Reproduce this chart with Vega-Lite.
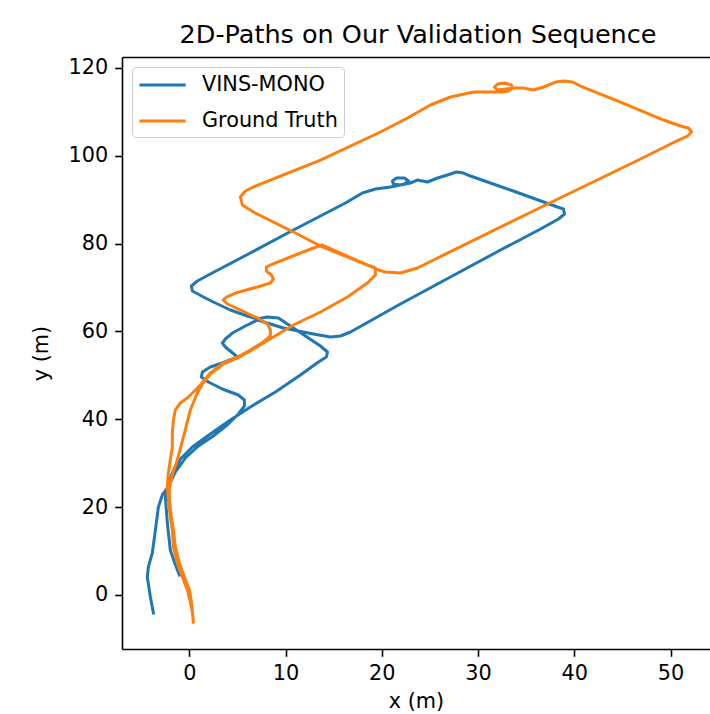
{
  "$schema": "https://vega.github.io/schema/vega-lite/v6.json",
  "autosize": "none",
  "padding": {"left": 122, "top": 57, "right": 0, "bottom": 65},
  "width": 588,
  "height": 592,
  "background": "white",
  "title": {"text": "2D-Paths on Our Validation Sequence", "fontSize": 25.5, "font": "DejaVu Sans", "fontWeight": "normal", "color": "#000", "anchor": "middle", "frame": "group", "offset": 12, "baseline": "bottom", "dy": 29, "dx": 2},
  "datasets": {
    "vins": [
      {"s":"VINS-MONO","i":1,"x":-3.74,"y":-4.10},{"s":"VINS-MONO","i":2,"x":-4.05,"y":-0.46},{"s":"VINS-MONO","i":3,"x":-4.37,"y":4.10},{"s":"VINS-MONO","i":4,"x":-4.26,"y":6.38},{"s":"VINS-MONO","i":5,"x":-3.85,"y":9.56},{"s":"VINS-MONO","i":6,"x":-3.53,"y":14.80},{"s":"VINS-MONO","i":7,"x":-3.22,"y":20.04},{"s":"VINS-MONO","i":8,"x":-2.81,"y":22.77},{"s":"VINS-MONO","i":9,"x":-2.29,"y":24.36},{"s":"VINS-MONO","i":10,"x":-1.46,"y":28.01},
      {"s":"VINS-MONO","i":11,"x":-0.42,"y":31.19},{"s":"VINS-MONO","i":12,"x":0.94,"y":33.93},{"s":"VINS-MONO","i":13,"x":2.49,"y":36.20},{"s":"VINS-MONO","i":14,"x":4.05,"y":38.93},{"s":"VINS-MONO","i":15,"x":5.09,"y":41.21},{"s":"VINS-MONO","i":16,"x":5.72,"y":43.03},{"s":"VINS-MONO","i":17,"x":5.72,"y":44.40},{"s":"VINS-MONO","i":18,"x":5.09,"y":45.54},{"s":"VINS-MONO","i":19,"x":3.43,"y":46.90},{"s":"VINS-MONO","i":20,"x":1.98,"y":48.50},
      {"s":"VINS-MONO","i":21,"x":1.25,"y":49.64},{"s":"VINS-MONO","i":22,"x":1.35,"y":50.77},{"s":"VINS-MONO","i":23,"x":2.18,"y":51.91},{"s":"VINS-MONO","i":24,"x":3.43,"y":52.82},{"s":"VINS-MONO","i":25,"x":4.99,"y":54.19},{"s":"VINS-MONO","i":26,"x":4.37,"y":55.33},{"s":"VINS-MONO","i":27,"x":3.74,"y":56.47},{"s":"VINS-MONO","i":28,"x":3.43,"y":57.38},{"s":"VINS-MONO","i":29,"x":3.74,"y":58.29},{"s":"VINS-MONO","i":30,"x":4.47,"y":59.65},
      {"s":"VINS-MONO","i":31,"x":5.82,"y":61.25},{"s":"VINS-MONO","i":32,"x":7.07,"y":62.61},{"s":"VINS-MONO","i":33,"x":8.42,"y":61.70},{"s":"VINS-MONO","i":34,"x":9.77,"y":60.79},{"s":"VINS-MONO","i":35,"x":11.33,"y":60.11},{"s":"VINS-MONO","i":36,"x":12.89,"y":59.43},{"s":"VINS-MONO","i":37,"x":14.66,"y":58.74},{"s":"VINS-MONO","i":38,"x":15.70,"y":58.97},{"s":"VINS-MONO","i":39,"x":16.74,"y":59.88},{"s":"VINS-MONO","i":40,"x":21.93,"y":66.26},
      {"s":"VINS-MONO","i":41,"x":27.13,"y":72.40},{"s":"VINS-MONO","i":42,"x":32.33,"y":78.55},{"s":"VINS-MONO","i":43,"x":36.49,"y":83.33},{"s":"VINS-MONO","i":44,"x":38.36,"y":85.61},{"s":"VINS-MONO","i":45,"x":38.98,"y":86.75},{"s":"VINS-MONO","i":46,"x":38.88,"y":87.89},{"s":"VINS-MONO","i":47,"x":38.25,"y":88.34},{"s":"VINS-MONO","i":48,"x":33.37,"y":92.21},{"s":"VINS-MONO","i":49,"x":29.21,"y":95.40},{"s":"VINS-MONO","i":50,"x":28.48,"y":96.08},
      {"s":"VINS-MONO","i":51,"x":27.75,"y":96.31},{"s":"VINS-MONO","i":52,"x":26.82,"y":95.63},{"s":"VINS-MONO","i":53,"x":25.78,"y":94.95},{"s":"VINS-MONO","i":54,"x":24.74,"y":94.04},{"s":"VINS-MONO","i":55,"x":23.70,"y":94.49},{"s":"VINS-MONO","i":56,"x":22.97,"y":93.81},{"s":"VINS-MONO","i":57,"x":21.93,"y":93.35},{"s":"VINS-MONO","i":58,"x":21.21,"y":93.58},{"s":"VINS-MONO","i":59,"x":21.10,"y":94.26},{"s":"VINS-MONO","i":60,"x":21.52,"y":94.95},
      {"s":"VINS-MONO","i":61,"x":22.35,"y":94.95},{"s":"VINS-MONO","i":62,"x":22.77,"y":94.26},{"s":"VINS-MONO","i":63,"x":22.35,"y":93.58},{"s":"VINS-MONO","i":64,"x":21.41,"y":93.12},{"s":"VINS-MONO","i":65,"x":20.89,"y":92.90},{"s":"VINS-MONO","i":66,"x":19.33,"y":92.44},{"s":"VINS-MONO","i":67,"x":17.98,"y":91.53},{"s":"VINS-MONO","i":68,"x":16.22,"y":89.25},{"s":"VINS-MONO","i":69,"x":13.62,"y":86.29},{"s":"VINS-MONO","i":70,"x":10.81,"y":83.11},
      {"s":"VINS-MONO","i":71,"x":6.34,"y":77.87},{"s":"VINS-MONO","i":72,"x":2.18,"y":73.09},{"s":"VINS-MONO","i":73,"x":0.83,"y":71.49},{"s":"VINS-MONO","i":74,"x":0.21,"y":70.36},{"s":"VINS-MONO","i":75,"x":0.31,"y":69.22},{"s":"VINS-MONO","i":76,"x":1.46,"y":67.85},{"s":"VINS-MONO","i":77,"x":2.49,"y":66.71},{"s":"VINS-MONO","i":78,"x":4.26,"y":64.89},{"s":"VINS-MONO","i":79,"x":6.03,"y":63.52},{"s":"VINS-MONO","i":80,"x":7.07,"y":62.84},
      {"s":"VINS-MONO","i":81,"x":8.11,"y":63.30},{"s":"VINS-MONO","i":82,"x":9.25,"y":63.07},{"s":"VINS-MONO","i":83,"x":10.19,"y":61.70},{"s":"VINS-MONO","i":84,"x":12.06,"y":58.97},{"s":"VINS-MONO","i":85,"x":13.62,"y":56.69},{"s":"VINS-MONO","i":86,"x":14.35,"y":55.33},{"s":"VINS-MONO","i":87,"x":14.24,"y":54.19},{"s":"VINS-MONO","i":88,"x":13.41,"y":53.05},{"s":"VINS-MONO","i":89,"x":11.54,"y":50.09},{"s":"VINS-MONO","i":90,"x":8.94,"y":46.22},
      {"s":"VINS-MONO","i":91,"x":6.34,"y":42.81},{"s":"VINS-MONO","i":92,"x":4.26,"y":39.85},{"s":"VINS-MONO","i":93,"x":2.18,"y":36.66},{"s":"VINS-MONO","i":94,"x":0.31,"y":33.70},{"s":"VINS-MONO","i":95,"x":-0.94,"y":30.97},{"s":"VINS-MONO","i":96,"x":-1.77,"y":27.78},{"s":"VINS-MONO","i":97,"x":-2.29,"y":24.59},{"s":"VINS-MONO","i":98,"x":-2.49,"y":22.31},{"s":"VINS-MONO","i":99,"x":-2.39,"y":19.35},{"s":"VINS-MONO","i":100,"x":-2.29,"y":16.39},
      {"s":"VINS-MONO","i":101,"x":-1.98,"y":10.25},{"s":"VINS-MONO","i":102,"x":-1.56,"y":7.51},{"s":"VINS-MONO","i":103,"x":-1.04,"y":4.55}
    ],
    "gt": [
      {"s":"Ground Truth","i":1,"x":0.42,"y":-6.15},{"s":"Ground Truth","i":2,"x":0.31,"y":-3.87},{"s":"Ground Truth","i":3,"x":0.10,"y":-1.59},{"s":"Ground Truth","i":4,"x":-0.21,"y":1.14},{"s":"Ground Truth","i":5,"x":-0.73,"y":4.10},{"s":"Ground Truth","i":6,"x":-1.25,"y":7.29},{"s":"Ground Truth","i":7,"x":-1.66,"y":10.93},{"s":"Ground Truth","i":8,"x":-1.77,"y":14.80},{"s":"Ground Truth","i":9,"x":-1.98,"y":17.76},{"s":"Ground Truth","i":10,"x":-2.18,"y":21.63},
      {"s":"Ground Truth","i":11,"x":-2.29,"y":24.59},{"s":"Ground Truth","i":12,"x":-2.18,"y":27.78},{"s":"Ground Truth","i":13,"x":-1.98,"y":30.74},{"s":"Ground Truth","i":14,"x":-1.77,"y":33.70},{"s":"Ground Truth","i":15,"x":-1.77,"y":36.89},{"s":"Ground Truth","i":16,"x":-1.66,"y":39.85},{"s":"Ground Truth","i":17,"x":-1.46,"y":42.12},{"s":"Ground Truth","i":18,"x":-0.94,"y":43.72},{"s":"Ground Truth","i":19,"x":-0.21,"y":44.85},{"s":"Ground Truth","i":20,"x":0.42,"y":46.22},
      {"s":"Ground Truth","i":21,"x":1.14,"y":47.81},{"s":"Ground Truth","i":22,"x":2.18,"y":50.55},{"s":"Ground Truth","i":23,"x":3.53,"y":52.82},{"s":"Ground Truth","i":24,"x":4.99,"y":54.19},{"s":"Ground Truth","i":25,"x":6.34,"y":55.78},{"s":"Ground Truth","i":26,"x":7.69,"y":57.61},{"s":"Ground Truth","i":27,"x":8.42,"y":58.97},{"s":"Ground Truth","i":28,"x":8.42,"y":60.34},{"s":"Ground Truth","i":29,"x":8.11,"y":61.70},{"s":"Ground Truth","i":30,"x":7.07,"y":63.07},
      {"s":"Ground Truth","i":31,"x":5.30,"y":64.89},{"s":"Ground Truth","i":32,"x":3.95,"y":66.26},{"s":"Ground Truth","i":33,"x":3.53,"y":67.17},{"s":"Ground Truth","i":34,"x":3.85,"y":67.85},{"s":"Ground Truth","i":35,"x":4.78,"y":68.76},{"s":"Ground Truth","i":36,"x":7.07,"y":70.13},{"s":"Ground Truth","i":37,"x":8.42,"y":71.04},{"s":"Ground Truth","i":38,"x":8.73,"y":71.95},{"s":"Ground Truth","i":39,"x":8.52,"y":72.86},{"s":"Ground Truth","i":40,"x":8.00,"y":73.77},
      {"s":"Ground Truth","i":41,"x":8.00,"y":74.68},{"s":"Ground Truth","i":42,"x":8.63,"y":75.36},{"s":"Ground Truth","i":43,"x":10.50,"y":76.96},{"s":"Ground Truth","i":44,"x":12.89,"y":79.01},{"s":"Ground Truth","i":45,"x":13.83,"y":79.69},{"s":"Ground Truth","i":46,"x":15.70,"y":77.87},{"s":"Ground Truth","i":47,"x":17.78,"y":75.82},{"s":"Ground Truth","i":48,"x":19.02,"y":74.68},{"s":"Ground Truth","i":49,"x":19.65,"y":74.00},{"s":"Ground Truth","i":50,"x":20.37,"y":73.54},
      {"s":"Ground Truth","i":51,"x":21.93,"y":73.31},{"s":"Ground Truth","i":52,"x":23.70,"y":74.45},{"s":"Ground Truth","i":53,"x":25.36,"y":76.28},{"s":"Ground Truth","i":54,"x":36.80,"y":88.57},{"s":"Ground Truth","i":55,"x":46.88,"y":99.27},{"s":"Ground Truth","i":56,"x":50.62,"y":103.37},{"s":"Ground Truth","i":57,"x":51.77,"y":104.51},{"s":"Ground Truth","i":58,"x":52.18,"y":105.42},{"s":"Ground Truth","i":59,"x":51.87,"y":106.33},{"s":"Ground Truth","i":60,"x":51.04,"y":106.79},
      {"s":"Ground Truth","i":61,"x":49.27,"y":108.15},{"s":"Ground Truth","i":62,"x":44.80,"y":112.25},{"s":"Ground Truth","i":63,"x":40.64,"y":115.89},{"s":"Ground Truth","i":64,"x":39.81,"y":116.80},{"s":"Ground Truth","i":65,"x":38.88,"y":117.03},{"s":"Ground Truth","i":66,"x":38.05,"y":116.80},{"s":"Ground Truth","i":67,"x":36.80,"y":115.67},{"s":"Ground Truth","i":68,"x":35.76,"y":114.98},{"s":"Ground Truth","i":69,"x":34.72,"y":115.44},{"s":"Ground Truth","i":70,"x":33.89,"y":115.44},
      {"s":"Ground Truth","i":71,"x":32.02,"y":114.98},{"s":"Ground Truth","i":72,"x":31.70,"y":115.67},{"s":"Ground Truth","i":73,"x":32.02,"y":116.35},{"s":"Ground Truth","i":74,"x":32.74,"y":116.58},{"s":"Ground Truth","i":75,"x":33.47,"y":116.12},{"s":"Ground Truth","i":76,"x":33.58,"y":115.44},{"s":"Ground Truth","i":77,"x":33.16,"y":114.75},{"s":"Ground Truth","i":78,"x":32.33,"y":114.53},{"s":"Ground Truth","i":79,"x":31.29,"y":114.53},{"s":"Ground Truth","i":80,"x":29.52,"y":114.53},
      {"s":"Ground Truth","i":81,"x":27.13,"y":113.39},{"s":"Ground Truth","i":82,"x":25.05,"y":111.57},{"s":"Ground Truth","i":83,"x":22.66,"y":108.61},{"s":"Ground Truth","i":84,"x":19.85,"y":105.42},{"s":"Ground Truth","i":85,"x":13.62,"y":99.04},{"s":"Ground Truth","i":86,"x":6.65,"y":92.90},{"s":"Ground Truth","i":87,"x":5.82,"y":91.99},{"s":"Ground Truth","i":88,"x":5.30,"y":90.62},{"s":"Ground Truth","i":89,"x":5.51,"y":88.80},{"s":"Ground Truth","i":90,"x":6.65,"y":87.20},
      {"s":"Ground Truth","i":91,"x":10.81,"y":82.65},{"s":"Ground Truth","i":92,"x":13.62,"y":79.46},{"s":"Ground Truth","i":93,"x":15.70,"y":77.64},{"s":"Ground Truth","i":94,"x":17.98,"y":75.59},{"s":"Ground Truth","i":95,"x":19.33,"y":74.45},{"s":"Ground Truth","i":96,"x":19.33,"y":72.86},{"s":"Ground Truth","i":97,"x":18.50,"y":71.04},{"s":"Ground Truth","i":98,"x":16.42,"y":67.85},{"s":"Ground Truth","i":99,"x":13.62,"y":64.44},{"s":"Ground Truth","i":100,"x":10.81,"y":61.48},
      {"s":"Ground Truth","i":101,"x":8.73,"y":58.74},{"s":"Ground Truth","i":102,"x":7.69,"y":57.38},{"s":"Ground Truth","i":103,"x":6.34,"y":55.56},{"s":"Ground Truth","i":104,"x":4.99,"y":53.96},{"s":"Ground Truth","i":105,"x":3.53,"y":52.60},{"s":"Ground Truth","i":106,"x":2.18,"y":50.32},{"s":"Ground Truth","i":107,"x":1.35,"y":48.04},{"s":"Ground Truth","i":108,"x":0.83,"y":45.99},{"s":"Ground Truth","i":109,"x":0.10,"y":42.12},{"s":"Ground Truth","i":110,"x":-0.62,"y":35.97},
      {"s":"Ground Truth","i":111,"x":-1.25,"y":30.74},{"s":"Ground Truth","i":112,"x":-1.77,"y":27.32},{"s":"Ground Truth","i":113,"x":-2.08,"y":24.36},{"s":"Ground Truth","i":114,"x":-2.08,"y":21.63},{"s":"Ground Truth","i":115,"x":-1.87,"y":17.76},{"s":"Ground Truth","i":116,"x":-1.66,"y":14.80},{"s":"Ground Truth","i":117,"x":-1.46,"y":10.93},{"s":"Ground Truth","i":118,"x":-1.04,"y":7.29},{"s":"Ground Truth","i":119,"x":-0.52,"y":4.10},{"s":"Ground Truth","i":120,"x":0.00,"y":1.14},
      {"s":"Ground Truth","i":121,"x":0.21,"y":-1.59},{"s":"Ground Truth","i":122,"x":0.31,"y":-3.87}
    ]
  },
  "layer": [
    {
      "data": {"name": "vins"},
      "mark": {"type": "line", "strokeWidth": 3, "strokeJoin": "round", "strokeCap": "square", "clip": false},
      "encoding": {
        "x": {"field": "x", "type": "quantitative", "scale": {"domain": [-7.0, 54.1], "nice": false, "zero": false}, "axis": {"orient": "bottom", "values": [0, 10, 20, 30, 40, 50], "title": "x (m)", "titlePadding": 8}},
        "y": {"field": "y", "type": "quantitative", "scale": {"domain": [-12.3, 122.5], "nice": false, "zero": false}, "axis": {"values": [0, 20, 40, 60, 80, 100, 120], "title": "y (m)", "titlePadding": 17}},
        "color": {"field": "s", "type": "nominal", "scale": {"domain": ["VINS-MONO", "Ground Truth"], "range": ["#1f77b4", "#ff7f0e"]}, "legend": {"title": null}},
        "order": {"field": "i", "type": "quantitative"}
      }
    },
    {
      "data": {"name": "gt"},
      "mark": {"type": "line", "strokeWidth": 3, "strokeJoin": "round", "strokeCap": "square", "clip": false},
      "encoding": {
        "x": {"field": "x", "type": "quantitative", "scale": {"domain": [-7.0, 54.1], "nice": false, "zero": false}, "axis": {"orient": "top", "labels": false, "ticks": false, "title": null}},
        "y": {"field": "y", "type": "quantitative"},
        "color": {"field": "s", "type": "nominal"},
        "order": {"field": "i", "type": "quantitative"}
      }
    }
  ],
  "config": {
    "view": {"stroke": null},
    "font": "DejaVu Sans",
    "axis": {"grid": false, "domainColor": "#000", "domainWidth": 1.6, "tickColor": "#000", "tickWidth": 1.6, "tickSize": 7.3, "labelPadding": 7, "labelFontSize": 20.8, "labelColor": "#000", "labelFont": "DejaVu Sans", "titleFont": "DejaVu Sans", "titleFontSize": 20.8, "titleFontWeight": "normal", "titleColor": "#000"},
    "legend": {"orient": "top-left", "offset": 10, "padding": 6, "rowPadding": 14, "symbolType": "M-1,0H3.4", "symbolSize": 441, "symbolStrokeWidth": 3, "labelOffset": 40, "labelFontSize": 20.8, "labelFont": "DejaVu Sans", "labelColor": "#000", "labelLimit": 400, "strokeColor": "#cccccc", "fillColor": "rgba(255,255,255,0.8)", "cornerRadius": 4}
  }
}
